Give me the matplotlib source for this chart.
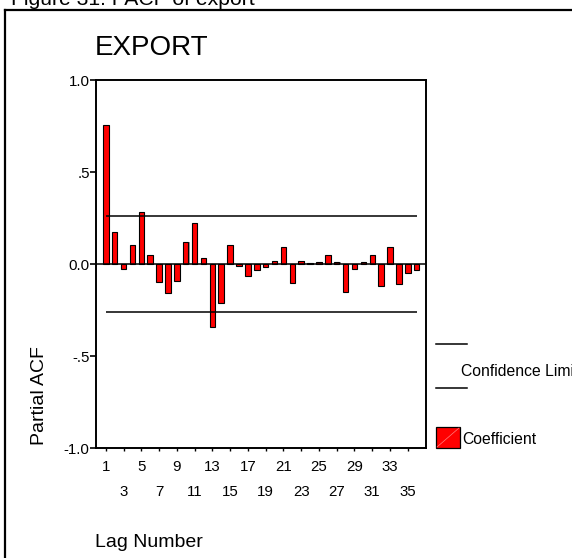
import matplotlib
matplotlib.use("Agg")
import matplotlib.pyplot as plt
from matplotlib.lines import Line2D
from matplotlib.patches import Rectangle

plt.rcParams['font.family'] = ['Liberation Sans', 'DejaVu Sans']

# Partial autocorrelation of EXPORT, lags 1..36
lags = list(range(1, 37))
pacf = [0.755, 0.172, -0.025, 0.103, 0.283, 0.048, -0.097, -0.159, -0.091, 0.118,
        0.221, 0.031, -0.340, -0.214, 0.103, -0.011, -0.065, -0.033, -0.018, 0.015,
        0.094, -0.105, 0.015, 0.003, 0.009, 0.049, 0.009, -0.151, -0.025, 0.009,
        0.049, -0.119, 0.095, -0.110, -0.050, -0.032]
conf_limit = 0.259

major_ticks = [1, 5, 9, 13, 17, 21, 25, 29, 33]
minor_ticks = [3, 7, 11, 15, 19, 23, 27, 31, 35]
y_ticks = [-1.0, -0.5, 0.0, 0.5, 1.0]
y_tick_labels = ['-1.0', '-.5', '0.0', '.5', '1.0']

W, H = 572, 558
fig = plt.figure(figsize=(W / 100, H / 100), dpi=100)


def fx(px):
    return px / W


def fy(py):
    return 1 - py / H


ax = fig.add_axes([fx(96), fy(448), fx(426) - fx(96), fy(80) - fy(448)])

# bars with a faint drop shadow
ax.bar([l + 0.12 for l in lags], pacf, width=0.62, color='#9a9a9a', linewidth=0, zorder=2)
ax.bar(lags, pacf, width=0.62, color='#ff0000', edgecolor='black', linewidth=0.8, zorder=3)

ax.axhline(0, color='black', linewidth=1.1, zorder=4)
ax.hlines([conf_limit, -conf_limit], lags[0], lags[-1], color='black', linewidth=1.1, zorder=4)

ax.set_xlim(-0.1, 37.05)
ax.set_ylim(-1.0, 1.0)

ax.set_yticks(y_ticks)
ax.set_yticklabels(y_tick_labels)
ax.set_xticks(major_ticks)
ax.set_xticklabels([str(t) for t in major_ticks])
ax.set_xticks(minor_ticks, minor=True)
ax.set_xticklabels([str(t) for t in minor_ticks], minor=True)

ax.tick_params(axis='y', direction='out', length=4, width=1.2, pad=0.5, labelsize=10.8)
ax.tick_params(axis='x', which='major', direction='out', length=2.5, width=1.0, pad=6, labelsize=10.8)
ax.tick_params(axis='x', which='minor', direction='out', length=2.5, width=1.0, pad=24.5, labelsize=10.8)

for sp in ax.spines.values():
    sp.set_linewidth(1.4)

# outer frame
fig.add_artist(Line2D([fx(5), fx(5)], [fy(9.5), fy(600)], color='black', linewidth=1.6))
fig.add_artist(Line2D([fx(5), fx(600)], [fy(9.5), fy(9.5)], color='black', linewidth=1.6))

# texts
fig.text(fx(11), fy(5), 'Figure 31: PACF of export', fontsize=15.2, va='baseline', ha='left')
fig.text(fx(95), fy(55), 'EXPORT', fontsize=20, va='baseline', ha='left')
fig.text(fx(40), fy(396), 'Partial ACF', fontsize=14, rotation=90, va='center', ha='center')
fig.text(fx(95), fy(547), 'Lag Number', fontsize=14, va='baseline', ha='left')

# legend
fig.add_artist(Line2D([fx(436), fx(467)], [fy(344), fy(344)], color='black', linewidth=1.1))
fig.add_artist(Line2D([fx(436), fx(467)], [fy(388), fy(388)], color='black', linewidth=1.1))
fig.text(fx(461), fy(372), 'Confidence Limits', fontsize=11.3, va='center', ha='left')

fig.add_artist(Rectangle((fx(436), fy(448)), fx(460) - fx(436), fy(427) - fy(448),
                         facecolor='#ff0000', edgecolor='black', linewidth=0.9))
fig.add_artist(Line2D([fx(437), fx(459)], [fy(447), fy(428)], color='#ff8080', linewidth=0.5))
fig.text(fx(462), fy(439), 'Coefficient', fontsize=11.3, va='center', ha='left')

fig.savefig('out.png', dpi=100)
